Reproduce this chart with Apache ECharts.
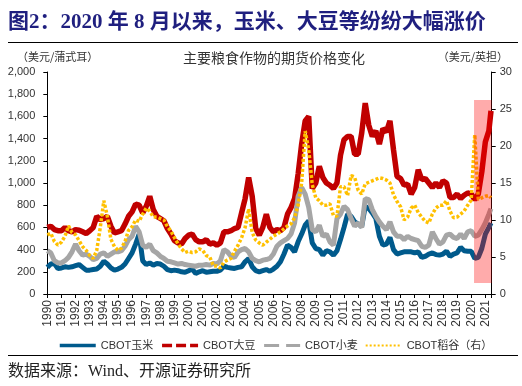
<!DOCTYPE html>
<html><head><meta charset="utf-8">
<script src="https://cdn.jsdelivr.net/npm/echarts/dist/echarts.min.js"></script>
<style>html,body{margin:0;padding:0;background:#fff}#c{width:522px;height:386px}</style>
</head><body><div id="c"></div>
<script>
// Quarterly sample dates (decimal years) 1990.00 ... 2021.25, plus last observation 2021.40
const dates = [];
for (let y = 1990; y <= 2021; y++) for (let q = 0; q < 4; q++) { const t = y + q / 4; if (t <= 2021.25) dates.push(t); }
dates.push(2021.4);

const yearTicks = ['1990','1991','1992','1993','1994','1995','1996','1997','1998','1999','2000','2001','2002','2003','2004','2005','2006','2007','2008','2009','2010','2011','2012','2013','2014','2015','2016','2017','2018','2019','2020','2021'];

// CBOT玉米 (left axis)
const corn = [
 240,270,275,230, 235,245,240,245, 255,265,240,215, 215,220,225,250,
 295,270,235,215, 225,240,270,320, 370,450,540,300, 265,280,260,275,
 270,250,220,210, 215,210,200,195, 210,225,185,200, 210,195,200,205,
 205,215,250,240, 235,230,240,245, 290,320,245,210, 200,210,220,205,
 225,250,290,360, 440,420,380,470, 540,620,660,460, 410,400,350,390,
 380,350,390,490, 600,720,700,650, 630,610,790,770, 730,680,520,440,
 450,510,400,360, 370,380,380,380, 370,380,330,340, 360,370,355,350,
 360,385,340,360, 370,420,390,385, 385,320,330,410, 540,600,640
];
// CBOT大豆 (left axis)
const soy = [
 600,610,580,570, 570,600,570,560, 580,575,560,545, 570,600,700,670,
 680,700,610,550, 560,570,630,700, 740,810,800,730, 790,880,760,700,
 680,660,590,540, 480,460,450,500, 530,540,490,470, 470,490,450,460,
 440,460,560,560, 570,590,600,730, 860,1050,880,590, 530,600,720,600,
 560,580,570,600, 720,780,860,1080, 1350,1560,1600,950, 1000,1150,1050,1000,
 980,950,1000,1250, 1390,1420,1420,1260, 1260,1450,1720,1520, 1420,1470,1350,1490,
 1460,1560,1300,1060, 1040,980,990,900, 960,1120,1030,1040, 1000,960,1000,960,
 1020,1000,870,870, 900,860,890,910, 900,850,900,1100, 1370,1470,1650
];
// CBOT小麦 (left axis)
const wheat = [
 390,370,300,280, 280,300,330,380, 450,390,350,360, 340,310,320,360,
 370,340,360,380, 380,390,430,490, 520,610,560,440, 420,450,390,370,
 340,320,295,290, 280,270,275,265, 260,255,250,260, 260,265,260,275,
 270,300,400,380, 340,330,380,400, 410,380,320,300, 290,305,310,320,
 360,430,460,480, 500,540,640,880, 960,900,780,580, 560,620,520,540,
 470,440,680,720, 790,760,680,610, 640,600,860,850, 760,700,650,610,
 580,650,560,520, 520,490,520,500, 490,480,430,420, 440,560,500,450,
 470,530,540,510, 500,540,500,560, 570,520,530,580, 640,720,770
];
// CBOT稻谷 (right axis)
const rice = [
 8.0,8.2,7.1,6.6, 7.0,7.8,9.2,8.3, 8.0,7.2,6.4,5.9, 5.2,4.8,5.9,9.0,
 12.6,10.5,7.4,6.4, 5.9,6.2,7.1,8.6, 9.1,10.0,9.8,10.8, 11.6,11.2,10.4,10.4,
 10.2,10.0,9.1,8.5, 7.6,6.8,6.1,5.6, 5.8,5.6,5.7,6.1, 5.9,5.2,5.0,3.8,
 3.8,3.5,4.3,4.6, 4.8,5.8,6.6,7.6, 9.0,11.5,8.3,7.3, 6.9,6.6,7.0,7.4,
 7.8,8.1,8.4,8.8, 9.2,9.5,10.3,12.0, 15.0,22.0,19.5,14.8, 13.0,12.6,12.0,12.0,
 12.2,10.6,10.5,14.5, 14.5,13.3,16.0,15.8, 14.0,13.5,14.9,15.1, 15.3,15.5,15.7,15.6,
 15.4,15.0,13.4,12.5, 11.8,10.0,10.4,11.6, 12.0,11.0,10.4,9.8, 9.6,10.8,11.6,12.0,
 12.0,12.6,11.2,10.3, 10.4,10.8,11.2,12.0, 12.7,21.5,12.8,13.0, 13.2,13.3,13.0
];
const leftTicks = [0,200,400,600,800,1000,1200,1400,1600,1800,2000];
const rightTicks = [0,5,10,15,20,25,30];
const names = ['CBOT玉米','CBOT大豆','CBOT小麦','CBOT稻谷（右）'];
const highlight = { from: 2020.2, to: 2021.45, top: 26.2, bottom: 1.5 };

const pair = arr => dates.map((t, i) => [t, arr[i]]);
const cjk = '"Liberation Sans","Noto Sans CJK SC",sans-serif';
const chart = echarts.init(document.getElementById('c'), null, {renderer: 'canvas'});
chart.setOption({
  animation: false,
  backgroundColor: '#fff',
  grid: { left: 47.3, right: 30.3, top: 72, bottom: 92 },
  markArea: { z: 10 },
  xAxis: {
    type: 'value', min: 1990, max: 2021.45, interval: 1,
    splitLine: { show: false },
    axisLine: { lineStyle: { color: '#000', width: 1 } },
    axisTick: { length: 4, lineStyle: { color: '#000' } },
    axisLabel: { rotate: 90, margin: 6, fontSize: 12, color: '#333', fontFamily: 'Liberation Sans',
      formatter: v => yearTicks.indexOf(String(v)) >= 0 ? String(v) : '' }
  },
  yAxis: [
    { type: 'value', min: leftTicks[0], max: leftTicks[leftTicks.length-1], interval: 200,
      splitLine: { show: false },
      axisLine: { show: true, lineStyle: { color: '#000' } },
      axisTick: { show: true, length: 4, lineStyle: { color: '#000' } },
      axisLabel: { margin: 12, fontSize: 11, color: '#333', fontFamily: 'Liberation Sans',
        formatter: v => v.toLocaleString('en-US') } },
    { type: 'value', min: rightTicks[0], max: rightTicks[rightTicks.length-1], interval: 5, position: 'right',
      splitLine: { show: false },
      axisLine: { show: true, lineStyle: { color: '#000' } },
      axisTick: { show: true, length: 4, lineStyle: { color: '#000' } },
      axisLabel: { margin: 8, fontSize: 11, color: '#333', fontFamily: 'Liberation Sans' } }
  ],
  legend: {
    left: 53, top: 335, itemWidth: 36, itemHeight: 10, itemGap: 7,
    itemStyle: { opacity: 0 },
    textStyle: { fontSize: 11, color: '#333', fontFamily: cjk },
    data: [
      { name: names[0], lineStyle: { width: 3.5, type: 'solid' } },
      { name: names[1], lineStyle: { width: 3.5, type: [10, 4] } },
      { name: names[2], lineStyle: { width: 3, type: [15, 7] } },
      { name: names[3], lineStyle: { width: 2, type: [2, 2] } }
    ]
  },
  series: [
    { name: names[0], type: 'line', yAxisIndex: 0, data: pair(corn), symbol: 'none',
      lineStyle: { color: '#005A8C', width: 5 }, itemStyle: { color: '#005A8C' } },
    { name: names[1], type: 'line', yAxisIndex: 0, data: pair(soy), symbol: 'none',
      lineStyle: { color: '#C00000', width: 5.5 }, itemStyle: { color: '#C00000' } },
    { name: names[2], type: 'line', yAxisIndex: 0, data: pair(wheat), symbol: 'none',
      lineStyle: { color: '#A6A6A6', width: 5 }, itemStyle: { color: '#A6A6A6' } },
    { name: names[3], type: 'line', yAxisIndex: 1, data: pair(rice), symbol: 'none',
      lineStyle: { color: '#FFC000', width: 3.5, type: [3, 2] }, itemStyle: { color: '#FFC000' },
      markArea: { silent: true, z: 10, itemStyle: { color: 'rgba(255,0,0,0.33)' },
        data: [[{ xAxis: highlight.from, yAxis: highlight.top }, { xAxis: highlight.to, yAxis: highlight.bottom }]] } }
  ],
  graphic: [
    { type: 'text', x: 8, y: 23, style: { text: '图2：2020 年 8 月以来，玉米、大豆等纷纷大幅涨价',
      font: 'bold 21px "Liberation Serif","Noto Sans CJK SC",serif', fill: '#1F1F7F', textVerticalAlign: 'middle' } },
    { type: 'line', shape: { x1: 8, y1: 42.5, x2: 518, y2: 42.5 }, style: { stroke: '#000', lineWidth: 1 } },
    { type: 'text', x: 17, y: 57, style: { text: '（美元/蒲式耳）', font: '11px "Noto Sans CJK SC"', fill: '#333', textVerticalAlign: 'middle' } },
    { type: 'text', x: 274, y: 58, style: { text: '主要粮食作物的期货价格变化', font: '14px "Noto Sans CJK SC"', fill: '#333', textAlign: 'center', textVerticalAlign: 'middle' } },
    { type: 'text', x: 508, y: 57, style: { text: '（美元/英担）', font: '11px "Noto Sans CJK SC"', fill: '#333', textAlign: 'right', textVerticalAlign: 'middle' } },
    { type: 'line', shape: { x1: 8, y1: 355.5, x2: 518, y2: 355.5 }, style: { stroke: '#000', lineWidth: 1 } },
    { type: 'text', x: 8, y: 372, style: { text: '数据来源：Wind、开源证券研究所', font: '16px "Liberation Serif","Noto Sans CJK SC",serif', fill: '#222', textVerticalAlign: 'middle' } }
  ]
});
</script></body></html>
